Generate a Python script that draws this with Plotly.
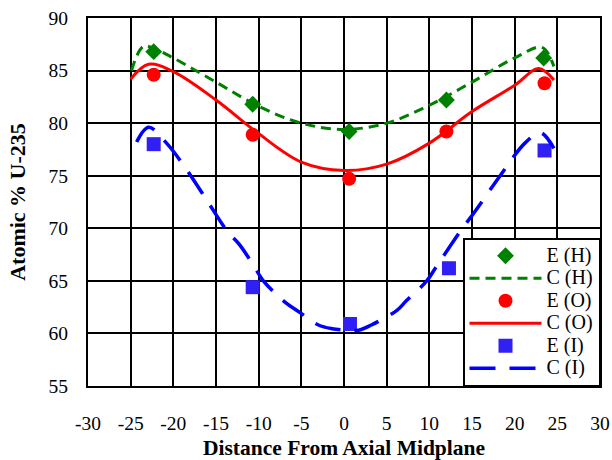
import plotly.graph_objects as go

# Experimental points
eh_x = [-22.3, -10.7, 0.6, 12.0, 23.4]
eh_y = [86.8, 81.8, 79.2, 82.2, 86.2]
eo_x = [-22.3, -10.7, 0.6, 12.0, 23.5]
eo_y = [84.6, 78.9, 74.7, 79.2, 83.8]
ei_x = [-22.3, -10.7, 0.7, 12.3, 23.5]
ei_y = [78.0, 64.4, 60.9, 66.2, 77.4]

# Calculated curves
ch_x = [-24.9, -23.5, -22.0, -20.0, -15.0, -10.0, -5.0, 0.0, 5.0, 10.0, 15.0, 20.0, 23.2, 24.6]
ch_y = [85.0, 87.3, 87.0, 86.2, 83.9, 81.6, 80.0, 79.4, 80.0, 81.7, 83.9, 86.2, 87.2, 85.4]
co_x = [-25.0, -22.9, -20.0, -15.0, -10.0, -5.0, 0.0, 5.0, 10.0, 15.0, 20.0, 22.8, 24.6]
co_y = [84.2, 85.6, 84.9, 82.2, 79.0, 76.3, 75.5, 76.1, 78.1, 81.1, 83.6, 85.2, 84.1]
ci_x = [-24.3, -22.9, -20.8, -18.8, -16.1, -13.75, -12.2, -10.4, -9.45, -7.1, -5.2, -3.0, -1.4,
        0.5, 1.7, 3.2, 6.2, 7.3, 9.7, 10.7, 13.7, 15.35, 18.3, 21.2, 23.0, 24.6]
ci_y = [78.2, 79.6, 78.1, 76.0, 72.7, 69.8, 68.4, 66.2, 65.0, 63.1, 62.0, 60.8, 60.45,
        60.3, 60.3, 60.8, 62.2, 63.1, 65.0, 66.2, 69.8, 71.6, 75.0, 78.1, 79.1, 77.6]

# Tick labels
x_ticks = [-30, -25, -20, -15, -10, -5, 0, 5, 10, 15, 20, 25, 30]
x_tick_labels = ["-30", "-25", "-20", "-15", "-10", "-5", "0", "5", "10", "15", "20", "25", "30"]
y_ticks = [55, 60, 65, 70, 75, 80, 85, 90]
y_tick_labels = ["55", "60", "65", "70", "75", "80", "85", "90"]

# Legend names
names = ["E (H)", "C (H)", "E (O)", "C (O)", "E (I)", "C (I)"]

GREEN = "#008000"
RED = "#ff0000"
BLUE = "#0000ff"
SQ = "#3020f5"
FONT = "Liberation Serif"


def lname(s):
    return '<span style="font-size:20px">' + s + '</span>'


fig = go.Figure()
fig.add_trace(go.Scatter(x=eh_x, y=eh_y, mode="markers", name=lname(names[0]),
                         marker=dict(symbol="diamond", size=13, color=GREEN)))
fig.add_trace(go.Scatter(x=ch_x, y=ch_y, mode="lines", name=lname(names[1]),
                         line=dict(color=GREEN, width=3, dash="10px,6px", shape="spline")))
fig.add_trace(go.Scatter(x=eo_x, y=eo_y, mode="markers", name=lname(names[2]),
                         marker=dict(symbol="circle", size=14, color=RED)))
fig.add_trace(go.Scatter(x=co_x, y=co_y, mode="lines", name=lname(names[3]),
                         line=dict(color=RED, width=3, shape="spline")))
fig.add_trace(go.Scatter(x=ei_x, y=ei_y, mode="markers", name=lname(names[4]),
                         marker=dict(symbol="square", size=14, color=SQ)))
fig.add_trace(go.Scatter(x=ci_x, y=ci_y, mode="lines", name=lname(names[5]),
                         line=dict(color=BLUE, width=3.5, dash="26px,14px", shape="spline")))

axis_common = dict(showgrid=True, gridcolor="black", gridwidth=1.5,
                   showline=True, linecolor="black", linewidth=2, mirror=True,
                   zeroline=False, ticks="outside", tickcolor="rgba(0,0,0,0)",
                   automargin=False,
                   tickfont=dict(family=FONT, size=19.5, color="black"))

fig.update_xaxes(range=[-30, 30], tickmode="array", tickvals=x_ticks, ticktext=x_tick_labels,
                 ticklen=19,
                 title=dict(text="<b>Distance From Axial Midplane</b>",
                            font=dict(family=FONT, size=21.5, color="black"), standoff=12),
                 **axis_common)
fig.update_yaxes(range=[55, 90], tickmode="array", tickvals=y_ticks, ticktext=y_tick_labels,
                 ticklen=14,
                 title=dict(text="<b>Atomic % U-235</b>",
                            font=dict(family=FONT, size=22, color="black"), standoff=17),
                 **axis_common)

fig.update_layout(
    width=612, height=460,
    margin=dict(l=88, r=12, t=18, b=74),
    paper_bgcolor="white", plot_bgcolor="white",
    font=dict(family=FONT, color="black"),
    legend=dict(x=1, y=0, xanchor="right", yanchor="bottom",
                bgcolor="white", bordercolor="black", borderwidth=1.5,
                font=dict(family=FONT, size=15.0, color="black"),
                itemwidth=72, tracegroupgap=0),
    showlegend=True,
)

fig.write_html("out.html", post_script="document.body.style.margin='0';",
               config={"displayModeBar": False})
